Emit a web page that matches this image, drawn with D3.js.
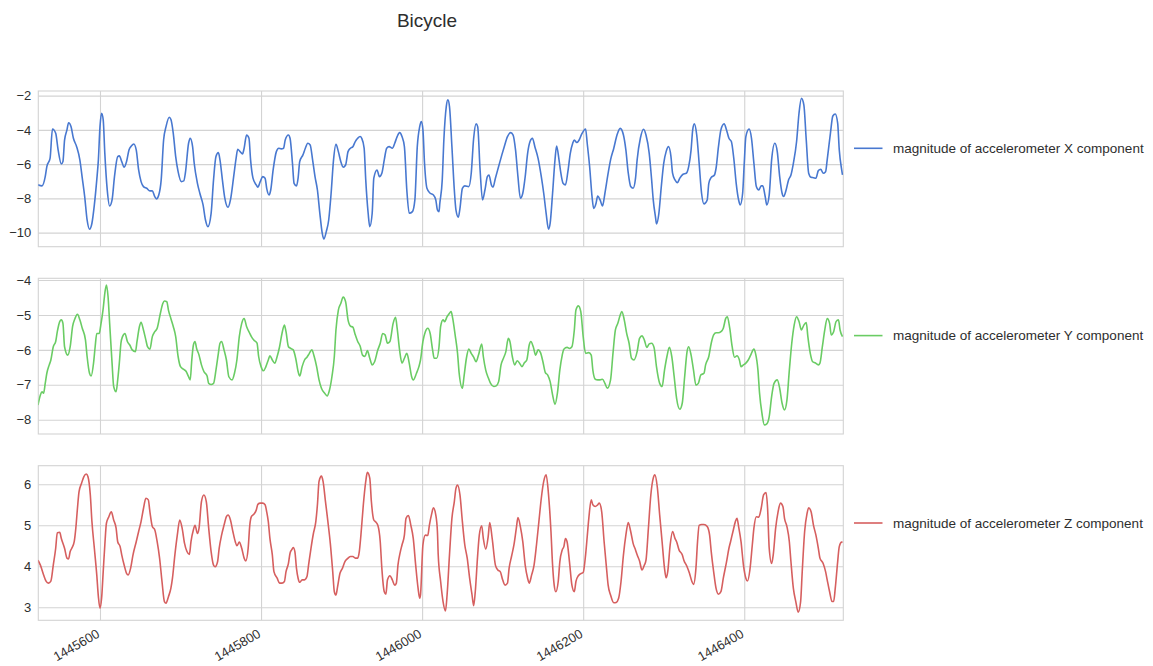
<!DOCTYPE html>
<html>
<head>
<meta charset="utf-8">
<title>Bicycle</title>
<script src="https://cdn.jsdelivr.net/npm/d3@7"></script>
<style>
  body { margin: 0; background: #ffffff; }
  svg { display: block; font-family: "Liberation Sans", Arial, "DejaVu Sans", sans-serif; }
</style>
</head>
<body>
<svg id="chart" width="1153" height="666"></svg>
<script>
// ---- data -------------------------------------------------------------
const chartTitle = "Bicycle";

const seriesLabels = [
  "magnitude of accelerometer X component",
  "magnitude of accelerometer Y component",
  "magnitude of accelerometer Z component"
];

const timeTicks = [1445600, 1445800, 1446000, 1446200, 1446400];
const xAccelTicks = [-10, -8, -6, -4, -2];
const yAccelTicks = [-8, -7, -6, -5, -4];
const zAccelTicks = [3, 4, 5, 6];

const xAccelTime = [1445523,1445528,1445532,1445534,1445538,1445541,1445545,1445548,1445552,1445554,1445556,1445559,1445561,1445564,1445567,1445571,1445575,1445578,1445581,1445584,1445587,1445590,1445593,1445596,1445598,1445600,1445602,1445604,1445606,1445609,1445612,1445615,1445618,1445622,1445624,1445627,1445630,1445633,1445636,1445639,1445642,1445645,1445648,1445651,1445654,1445658,1445662,1445665,1445668,1445670,1445673,1445676,1445679,1445682,1445686,1445688,1445691,1445694,1445697,1445701,1445704,1445706,1445710,1445712,1445715,1445717,1445721,1445724,1445728,1445731,1445734,1445738,1445741,1445744,1445747,1445749,1445752,1445755,1445759,1445762,1445766,1445769,1445771,1445774,1445777,1445779,1445782,1445785,1445787,1445790,1445794,1445796,1445799,1445802,1445805,1445807,1445810,1445812,1445815,1445819,1445822,1445825,1445828,1445830,1445834,1445836,1445839,1445841,1445844,1445846,1445848,1445852,1445855,1445858,1445861,1445864,1445867,1445870,1445873,1445876,1445878,1445881,1445884,1445887,1445890,1445893,1445896,1445899,1445902,1445905,1445908,1445911,1445914,1445917,1445920,1445923,1445925,1445928,1445930,1445933,1445935,1445938,1445940,1445944,1445947,1445950,1445953,1445956,1445959,1445963,1445966,1445969,1445972,1445975,1445978,1445981,1445984,1445988,1445991,1445994,1445997,1445999,1446001,1446003,1446006,1446010,1446014,1446017,1446019,1446021,1446022,1446025,1446027,1446030,1446032,1446034,1446037,1446040,1446042,1446045,1446047,1446050,1446053,1446058,1446061,1446064,1446067,1446069,1446072,1446075,1446078,1446081,1446083,1446086,1446088,1446091,1446095,1446099,1446102,1446106,1446110,1446113,1446116,1446119,1446122,1446125,1446128,1446131,1446134,1446137,1446140,1446144,1446148,1446151,1446154,1446157,1446159,1446162,1446165,1446167,1446170,1446172,1446175,1446178,1446181,1446184,1446187,1446189,1446192,1446195,1446198,1446203,1446205,1446208,1446211,1446213,1446216,1446218,1446221,1446224,1446227,1446231,1446234,1446238,1446242,1446246,1446250,1446253,1446256,1446259,1446262,1446265,1446267,1446271,1446275,1446278,1446282,1446285,1446287,1446290,1446291,1446294,1446297,1446300,1446303,1446306,1446309,1446311,1446314,1446317,1446320,1446324,1446328,1446331,1446334,1446336,1446338,1446341,1446344,1446347,1446350,1446354,1446356,1446359,1446363,1446365,1446368,1446371,1446375,1446378,1446381,1446384,1446387,1446390,1446393,1446395,1446398,1446400,1446402,1446406,1446409,1446412,1446415,1446418,1446421,1446423,1446426,1446428,1446431,1446434,1446438,1446441,1446444,1446447,1446449,1446452,1446455,1446458,1446461,1446465,1446468,1446471,1446474,1446477,1446480,1446483,1446486,1446489,1446492,1446495,1446498,1446501,1446503,1446507,1446510,1446513,1446516,1446518,1446521,1446522];
const xAccelValue = [-7.21,-7.27,-6.73,-6.14,-5.66,-3.95,-4.2,-5.17,-5.99,-5.85,-4.6,-4.0,-3.58,-3.8,-4.49,-4.98,-5.75,-6.82,-7.9,-9.26,-9.8,-9.45,-8.38,-6.92,-5.75,-3.81,-3.03,-3.42,-5.37,-7.5,-8.44,-8.09,-6.73,-5.56,-5.52,-5.85,-6.18,-5.85,-5.17,-4.94,-4.82,-5.17,-6.34,-7.02,-7.31,-7.41,-7.56,-7.56,-7.89,-8.03,-7.8,-6.92,-4.59,-3.81,-3.26,-3.38,-4.2,-5.56,-6.44,-7.02,-6.98,-6.53,-4.78,-4.49,-4.98,-5.95,-7.12,-7.7,-8.38,-9.26,-9.65,-8.87,-6.92,-5.56,-5.33,-5.75,-6.92,-7.99,-8.52,-8.09,-6.73,-5.66,-5.13,-5.27,-5.4,-5.07,-4.3,-4.49,-5.75,-6.82,-7.21,-7.35,-7.02,-6.73,-6.82,-7.41,-7.8,-7.51,-6.34,-5.27,-5.07,-5.11,-5.07,-4.59,-4.3,-4.49,-5.95,-7.12,-7.27,-6.82,-5.85,-5.46,-5.07,-4.78,-4.88,-5.75,-6.73,-7.51,-8.87,-10.04,-10.37,-9.94,-9.26,-7.7,-5.75,-4.84,-5.27,-5.85,-6.18,-6.05,-5.27,-5.07,-4.98,-4.68,-4.49,-4.39,-4.49,-5.07,-6.92,-8.87,-9.65,-8.87,-6.82,-6.34,-6.73,-6.53,-5.75,-5.07,-4.98,-5.07,-4.78,-4.39,-4.16,-4.39,-4.98,-7.51,-8.87,-8.77,-8.09,-4.98,-3.81,-3.52,-4.0,-5.95,-7.41,-7.7,-7.8,-8.09,-8.67,-8.77,-8.28,-6.92,-4.59,-2.64,-2.25,-2.64,-4.98,-7.51,-8.67,-9.1,-8.58,-7.41,-7.27,-7.31,-6.53,-4.49,-3.65,-3.81,-6.34,-8.09,-7.51,-6.73,-6.63,-7.21,-7.35,-6.82,-6.14,-5.46,-4.98,-4.39,-4.16,-4.3,-5.17,-6.73,-7.99,-7.7,-6.73,-5.37,-4.68,-4.49,-4.98,-5.66,-6.73,-7.7,-8.87,-9.8,-9.45,-7.7,-5.75,-4.94,-5.75,-6.44,-7.12,-7.21,-6.44,-5.37,-4.78,-4.59,-4.74,-4.59,-4.26,-3.95,-4.78,-6.14,-7.9,-8.58,-8.28,-7.86,-8.09,-8.44,-7.7,-6.53,-5.75,-5.07,-4.3,-3.91,-4.3,-5.17,-6.53,-7.31,-7.41,-6.82,-5.75,-4.49,-3.96,-4.3,-5.37,-6.92,-8.09,-9.16,-9.49,-8.87,-7.31,-5.95,-5.27,-4.98,-5.56,-6.53,-6.92,-7.08,-6.82,-6.59,-6.53,-6.14,-5.17,-4.0,-3.65,-4.3,-5.95,-7.7,-8.32,-8.09,-7.12,-6.77,-6.63,-6.24,-4.98,-4.0,-3.65,-4.0,-4.49,-4.68,-5.66,-7.12,-8.09,-8.38,-7.7,-5.95,-4.39,-3.95,-4.49,-5.95,-7.31,-7.51,-7.27,-7.27,-7.89,-8.38,-7.8,-5.75,-4.78,-5.27,-6.73,-7.7,-7.89,-7.51,-6.92,-6.63,-5.95,-4.68,-3.03,-2.16,-2.54,-4.59,-6.53,-6.77,-6.79,-6.82,-6.38,-6.3,-6.53,-6.44,-5.75,-4.2,-3.19,-3.07,-3.61,-5.17,-6.34,-6.63];

const yAccelTime = [1445523,1445526,1445528,1445530,1445532,1445534,1445537,1445539,1445542,1445545,1445547,1445550,1445552,1445554,1445556,1445560,1445563,1445566,1445569,1445572,1445575,1445578,1445582,1445584,1445587,1445589,1445592,1445594,1445596,1445599,1445601,1445604,1445606,1445608,1445610,1445612,1445615,1445617,1445620,1445622,1445624,1445626,1445628,1445631,1445634,1445637,1445640,1445644,1445646,1445649,1445651,1445654,1445657,1445659,1445662,1445665,1445668,1445671,1445675,1445678,1445680,1445683,1445685,1445688,1445691,1445694,1445697,1445700,1445704,1445707,1445710,1445712,1445714,1445716,1445718,1445720,1445723,1445726,1445729,1445733,1445735,1445738,1445741,1445744,1445747,1445749,1445751,1445754,1445757,1445760,1445764,1445767,1445770,1445773,1445776,1445779,1445782,1445786,1445788,1445791,1445795,1445797,1445800,1445803,1445806,1445809,1445811,1445814,1445817,1445820,1445823,1445826,1445829,1445831,1445834,1445837,1445840,1445843,1445846,1445848,1445851,1445854,1445857,1445860,1445863,1445866,1445869,1445872,1445875,1445879,1445882,1445885,1445888,1445891,1445893,1445896,1445899,1445902,1445905,1445908,1445911,1445914,1445917,1445920,1445923,1445926,1445929,1445932,1445935,1445938,1445941,1445945,1445948,1445951,1445954,1445957,1445960,1445964,1445967,1445969,1445972,1445975,1445978,1445981,1445984,1445987,1445989,1445993,1445996,1445998,1446001,1446004,1446007,1446010,1446013,1446015,1446018,1446021,1446023,1446026,1446028,1446031,1446034,1446036,1446038,1446041,1446044,1446046,1446050,1446052,1446055,1446058,1446061,1446064,1446067,1446070,1446074,1446076,1446079,1446082,1446085,1446089,1446092,1446095,1446098,1446101,1446104,1446107,1446109,1446112,1446115,1446118,1446121,1446124,1446127,1446130,1446133,1446135,1446138,1446141,1446144,1446147,1446150,1446153,1446156,1446159,1446162,1446165,1446168,1446171,1446174,1446176,1446180,1446183,1446186,1446189,1446191,1446194,1446197,1446200,1446203,1446207,1446210,1446212,1446215,1446218,1446221,1446224,1446227,1446230,1446234,1446237,1446240,1446243,1446246,1446248,1446251,1446254,1446257,1446260,1446263,1446267,1446270,1446273,1446276,1446279,1446282,1446285,1446288,1446291,1446295,1446298,1446301,1446304,1446307,1446310,1446313,1446316,1446320,1446323,1446326,1446329,1446331,1446334,1446337,1446340,1446343,1446346,1446350,1446352,1446356,1446359,1446362,1446365,1446368,1446371,1446374,1446377,1446379,1446382,1446385,1446388,1446391,1446394,1446396,1446399,1446402,1446405,1446408,1446412,1446414,1446417,1446419,1446422,1446425,1446428,1446431,1446434,1446437,1446441,1446444,1446447,1446450,1446453,1446456,1446459,1446462,1446465,1446468,1446471,1446474,1446477,1446479,1446482,1446485,1446488,1446492,1446494,1446497,1446500,1446503,1446506,1446508,1446511,1446514,1446517,1446519,1446522];
const yAccelValue = [-7.58,-7.29,-7.2,-7.24,-6.96,-6.67,-6.43,-6.29,-5.91,-5.76,-5.48,-5.19,-5.14,-5.24,-5.91,-6.15,-5.91,-5.33,-5.1,-4.98,-5.14,-5.38,-5.72,-6.19,-6.67,-6.75,-6.38,-5.91,-5.53,-5.53,-5.29,-4.81,-4.38,-4.14,-4.47,-5.24,-6.38,-7.05,-7.2,-6.86,-6.38,-5.81,-5.62,-5.53,-5.76,-5.86,-6.0,-6.05,-5.76,-5.33,-5.21,-5.43,-5.72,-5.91,-5.98,-5.62,-5.48,-5.38,-4.95,-4.67,-4.6,-4.62,-4.86,-5.1,-5.33,-5.62,-6.19,-6.48,-6.56,-6.62,-6.77,-6.86,-6.29,-5.86,-5.76,-5.96,-6.15,-6.43,-6.62,-6.75,-6.96,-6.99,-6.96,-6.58,-6.1,-5.81,-5.76,-6.0,-6.29,-6.77,-6.86,-6.67,-6.29,-5.62,-5.24,-5.1,-5.33,-5.53,-5.62,-5.72,-5.81,-6.19,-6.48,-6.6,-6.48,-6.29,-6.17,-6.29,-6.38,-6.19,-5.91,-5.53,-5.29,-5.48,-5.91,-5.96,-6.0,-6.24,-6.62,-6.75,-6.48,-6.29,-6.21,-6.1,-6.0,-6.19,-6.48,-6.86,-7.1,-7.24,-7.32,-7.15,-6.77,-6.19,-5.43,-4.86,-4.67,-4.49,-4.62,-5.14,-5.32,-5.35,-5.57,-5.76,-5.89,-6.15,-6.19,-6.02,-6.24,-6.43,-6.34,-6.0,-5.81,-5.53,-5.57,-5.81,-5.76,-5.24,-5.07,-5.38,-6.0,-6.38,-6.24,-6.1,-6.38,-6.77,-6.86,-6.67,-6.48,-6.29,-5.76,-5.48,-5.38,-5.53,-6.0,-6.24,-6.24,-5.91,-5.33,-5.14,-5.19,-5.05,-4.95,-4.9,-5.1,-5.57,-6.1,-6.67,-7.1,-6.77,-6.24,-5.98,-6.1,-6.21,-6.34,-6.15,-5.83,-6.19,-6.58,-6.79,-6.96,-7.05,-7.03,-6.91,-6.43,-6.24,-6.05,-5.67,-5.76,-6.19,-6.43,-6.31,-6.38,-6.48,-6.37,-6.29,-5.86,-5.76,-5.91,-6.15,-6.0,-6.08,-6.34,-6.65,-6.72,-6.91,-7.29,-7.56,-7.24,-6.58,-6.15,-5.98,-5.93,-5.96,-5.91,-5.43,-4.86,-4.74,-4.9,-5.62,-6.1,-6.08,-6.15,-6.58,-6.84,-6.86,-6.86,-6.84,-6.96,-7.1,-6.86,-6.1,-5.43,-5.24,-5.0,-4.9,-5.14,-5.53,-5.81,-6.24,-6.29,-6.05,-5.67,-5.6,-5.72,-5.93,-5.83,-5.81,-5.93,-6.48,-6.96,-7.05,-6.58,-6.19,-5.93,-6.19,-6.77,-7.39,-7.7,-7.53,-6.77,-6.05,-5.91,-6.15,-6.58,-7.01,-6.96,-6.72,-6.67,-6.43,-6.19,-5.81,-5.57,-5.51,-5.51,-5.48,-5.38,-5.1,-5.05,-5.38,-5.91,-6.21,-6.17,-6.29,-6.48,-6.43,-6.38,-6.29,-6.15,-5.98,-6.1,-6.58,-7.24,-7.82,-8.15,-8.12,-7.91,-7.34,-6.96,-6.86,-7.1,-7.53,-7.72,-7.44,-6.58,-5.81,-5.29,-5.05,-5.19,-5.43,-5.29,-5.22,-5.62,-6.1,-6.34,-6.37,-6.43,-6.38,-5.91,-5.43,-5.1,-5.24,-5.57,-5.48,-5.19,-5.14,-5.43,-5.62];

const zAccelTime = [1445523,1445526,1445530,1445533,1445536,1445539,1445542,1445545,1445547,1445550,1445552,1445556,1445559,1445561,1445563,1445565,1445568,1445570,1445572,1445574,1445577,1445580,1445583,1445585,1445588,1445590,1445593,1445596,1445598,1445600,1445602,1445604,1445606,1445608,1445611,1445614,1445617,1445620,1445622,1445625,1445627,1445630,1445633,1445635,1445638,1445641,1445645,1445648,1445651,1445654,1445657,1445660,1445662,1445665,1445668,1445671,1445674,1445677,1445680,1445682,1445685,1445688,1445690,1445693,1445696,1445699,1445702,1445705,1445708,1445711,1445713,1445716,1445718,1445721,1445723,1445726,1445729,1445732,1445735,1445738,1445741,1445743,1445746,1445748,1445751,1445754,1445757,1445759,1445762,1445765,1445768,1445770,1445773,1445776,1445779,1445781,1445784,1445786,1445788,1445791,1445794,1445796,1445799,1445802,1445805,1445807,1445809,1445811,1445814,1445816,1445820,1445823,1445826,1445829,1445831,1445834,1445836,1445838,1445840,1445842,1445844,1445846,1445848,1445851,1445854,1445857,1445859,1445862,1445865,1445868,1445870,1445872,1445875,1445877,1445880,1445883,1445886,1445889,1445891,1445893,1445895,1445898,1445901,1445904,1445907,1445911,1445914,1445917,1445920,1445922,1445924,1445927,1445930,1445932,1445935,1445937,1445940,1445942,1445945,1445948,1445950,1445953,1445955,1445957,1445960,1445963,1445966,1445968,1445970,1445973,1445975,1445978,1445980,1445983,1445986,1445989,1445992,1445995,1445997,1445998,1446001,1446004,1446007,1446009,1446012,1446014,1446017,1446019,1446020,1446023,1446026,1446029,1446031,1446034,1446037,1446040,1446042,1446044,1446047,1446050,1446053,1446056,1446059,1446062,1446064,1446066,1446069,1446071,1446074,1446076,1446079,1446082,1446084,1446087,1446091,1446094,1446097,1446100,1446103,1446106,1446108,1446111,1446114,1446117,1446119,1446122,1446125,1446128,1446131,1446133,1446136,1446139,1446142,1446145,1446148,1446151,1446154,1446157,1446160,1446162,1446164,1446166,1446169,1446171,1446174,1446176,1446178,1446180,1446183,1446186,1446189,1446191,1446194,1446197,1446200,1446203,1446205,1446207,1446210,1446212,1446215,1446218,1446220,1446223,1446226,1446229,1446231,1446234,1446238,1446241,1446244,1446247,1446250,1446253,1446256,1446259,1446262,1446265,1446267,1446270,1446273,1446276,1446278,1446281,1446284,1446287,1446289,1446292,1446295,1446298,1446301,1446303,1446305,1446308,1446311,1446314,1446316,1446319,1446323,1446325,1446329,1446332,1446335,1446337,1446340,1446342,1446344,1446347,1446350,1446354,1446357,1446359,1446362,1446365,1446368,1446371,1446374,1446378,1446381,1446383,1446386,1446389,1446391,1446393,1446396,1446399,1446402,1446404,1446407,1446410,1446412,1446415,1446418,1446421,1446424,1446427,1446429,1446431,1446434,1446436,1446439,1446442,1446445,1446448,1446450,1446453,1446456,1446458,1446461,1446464,1446467,1446470,1446472,1446475,1446478,1446480,1446483,1446486,1446489,1446492,1446494,1446498,1446501,1446503,1446506,1446509,1446511,1446513,1446516,1446518,1446521,1446522];
const zAccelValue = [4.15,4.03,3.79,3.64,3.59,3.64,4.03,4.44,4.82,4.83,4.68,4.44,4.2,4.18,4.36,4.44,4.6,4.93,5.41,5.82,6.02,6.19,6.25,6.19,5.74,5.09,4.44,3.79,3.26,2.98,3.22,3.87,4.52,5.05,5.21,5.33,5.13,4.93,4.6,4.48,4.28,4.03,3.83,3.79,3.95,4.28,4.6,4.85,5.09,5.41,5.66,5.62,5.33,4.97,4.89,4.6,4.2,3.63,3.14,3.1,3.26,3.46,3.71,4.28,4.76,5.13,4.93,4.56,4.36,4.29,4.6,4.89,5.0,4.8,4.93,5.58,5.74,5.58,4.93,4.36,4.03,3.99,4.11,4.44,4.76,5.0,5.21,5.25,5.13,4.85,4.6,4.5,4.59,4.44,4.2,4.13,4.44,5.0,5.21,5.27,5.37,5.51,5.54,5.54,5.5,5.33,5.09,4.68,4.28,3.87,3.71,3.59,3.59,3.63,3.87,4.07,4.32,4.4,4.46,4.36,3.95,3.71,3.61,3.67,3.67,3.75,4.03,4.44,4.8,5.09,5.5,6.07,6.2,6.07,5.58,5.09,4.56,3.87,3.38,3.3,3.5,3.83,3.95,4.11,4.18,4.24,4.24,4.2,4.2,4.36,4.76,5.5,6.07,6.29,6.15,5.58,5.13,5.09,5.0,4.6,3.95,3.38,3.32,3.67,3.77,3.67,3.54,3.59,4.03,4.36,4.52,4.76,5.17,5.24,5.0,4.68,4.03,3.46,3.22,3.3,4.52,4.76,4.75,5.0,5.29,5.43,5.25,4.85,4.28,3.63,3.14,2.91,3.3,4.28,5.17,5.58,5.9,5.98,5.74,5.09,4.52,4.2,3.71,3.3,3.04,3.38,4.28,4.76,4.99,4.68,4.42,4.72,5.07,4.68,4.03,3.91,3.87,3.67,3.54,3.59,3.95,4.24,4.52,4.93,5.19,4.97,4.6,4.03,3.71,3.59,3.79,4.03,4.52,5.09,5.66,6.07,6.23,5.74,4.85,4.03,3.54,3.38,3.63,4.11,4.4,4.48,4.68,4.6,4.11,3.54,3.38,3.63,3.77,3.82,3.85,4.28,4.72,5.17,5.62,5.5,5.46,5.5,5.54,5.33,4.6,3.95,3.54,3.3,3.11,3.12,3.22,3.63,4.28,4.76,5.07,4.85,4.56,4.4,4.28,4.13,3.91,4.03,4.15,4.93,5.74,6.15,6.23,5.94,5.25,4.6,3.95,3.72,3.87,4.52,4.85,4.68,4.6,4.4,4.28,4.15,3.99,3.83,3.63,3.56,3.95,4.6,5.0,5.02,5.02,4.97,4.76,4.36,3.87,3.46,3.32,3.38,3.71,4.11,4.44,4.6,4.85,5.09,5.17,4.97,4.6,4.03,3.71,3.64,3.91,4.52,4.93,5.21,5.2,5.41,5.74,5.8,5.41,4.44,4.07,4.28,4.93,5.33,5.54,5.46,5.17,4.97,4.6,4.11,3.46,3.14,2.88,3.14,3.87,4.85,5.29,5.43,5.33,5.0,4.76,4.44,4.2,4.07,3.87,3.67,3.38,3.14,3.14,3.46,4.11,4.48,4.59,4.59];

const seriesColors = ["#4878d0", "#6acc64", "#d65f5f"];

// ---- layout -----------------------------------------------------------
const plotLeft = 38.3;
const plotRight = 843.3;

const panels = [
  { time: xAccelTime, value: xAccelValue, ticks: xAccelTicks, label: seriesLabels[0], color: seriesColors[0],
    top: 91, bottom: 246.7, domain: [-10.82, -1.73] },
  { time: yAccelTime, value: yAccelValue, ticks: yAccelTicks, label: seriesLabels[1], color: seriesColors[1],
    top: 278.3, bottom: 434, domain: [-8.41, -3.95] },
  { time: zAccelTime, value: zAccelValue, ticks: zAccelTicks, label: seriesLabels[2], color: seriesColors[2],
    top: 465.7, bottom: 620.3, domain: [2.683, 6.454] }
];

const gridColor = "#d3d3d3";
const textColor = "#2e2e2e";
const tickFont = "13px";

const svg = d3.select("#chart");

svg.append("rect").attr("width", 1153).attr("height", 666).attr("fill", "#ffffff");

svg.append("text")
  .attr("x", 427).attr("y", 27)
  .attr("text-anchor", "middle")
  .attr("fill", textColor)
  .style("font-size", "19px")
  .text(chartTitle);

const x = d3.scaleLinear().domain([1445523.4, 1446523]).range([plotLeft, plotRight]);
const minusFormat = d3.format("d");

panels.forEach((p, i) => {
  const y = d3.scaleLinear().domain(p.domain).range([p.bottom, p.top]);
  const g = svg.append("g");
  const innerH = p.bottom - p.top;
  const innerW = plotRight - plotLeft;

  // horizontal grid + y labels
  const yAxis = g.append("g")
    .attr("transform", `translate(${plotLeft},0)`)
    .call(d3.axisLeft(y).tickValues(p.ticks).tickSize(-innerW).tickPadding(7).tickFormat(minusFormat));
  yAxis.select(".domain").remove();
  yAxis.selectAll(".tick line").attr("stroke", gridColor).attr("stroke-width", 1.1);
  yAxis.selectAll(".tick text")
    .attr("fill", textColor)
    .style("font-size", tickFont)
    .style("font-family", '"Liberation Sans", Arial, sans-serif');

  // vertical grid (+ rotated labels on the lowest panel)
  const xAxis = g.append("g")
    .attr("transform", `translate(0,${p.bottom})`)
    .call(d3.axisBottom(x).tickValues(timeTicks).tickSize(-innerH)
      .tickFormat(i === panels.length - 1 ? d3.format("d") : () => ""));
  xAxis.select(".domain").remove();
  xAxis.selectAll(".tick line").attr("stroke", gridColor).attr("stroke-width", 1.1);
  xAxis.selectAll(".tick text")
    .attr("y", 0).attr("dy", 0)
    .attr("transform", "translate(0,16) rotate(-30)")
    .attr("text-anchor", "end")
    .attr("fill", textColor)
    .style("font-size", tickFont)
    .style("font-family", '"Liberation Sans", Arial, sans-serif');

  // frame
  g.append("rect")
    .attr("x", plotLeft).attr("y", p.top)
    .attr("width", innerW).attr("height", innerH)
    .attr("fill", "none").attr("stroke", gridColor).attr("stroke-width", 1.1);

  // series line
  const clipId = `clip-${i}`;
  svg.append("clipPath").attr("id", clipId)
    .append("rect").attr("x", plotLeft).attr("y", p.top).attr("width", innerW).attr("height", innerH);

  const points = p.time.map((t, k) => [t, p.value[k]]);
  const line = d3.line().x(d => x(d[0])).y(d => y(d[1])).curve(d3.curveMonotoneX);
  g.append("path")
    .datum(points)
    .attr("clip-path", `url(#${clipId})`)
    .attr("fill", "none")
    .attr("stroke", p.color)
    .attr("stroke-width", 1.6)
    .attr("stroke-linejoin", "round")
    .attr("d", line);

  // legend
  const ly = p.top + 57.3;
  const legend = g.append("g");
  legend.append("line")
    .attr("x1", 854).attr("x2", 882.5).attr("y1", ly).attr("y2", ly)
    .attr("stroke", p.color).attr("stroke-width", 1.6);
  legend.append("text")
    .attr("x", 893).attr("y", ly)
    .attr("dy", "0.35em")
    .attr("fill", textColor)
    .style("font-size", "13.5px")
    .text(p.label);
});
</script>
</body>
</html>
